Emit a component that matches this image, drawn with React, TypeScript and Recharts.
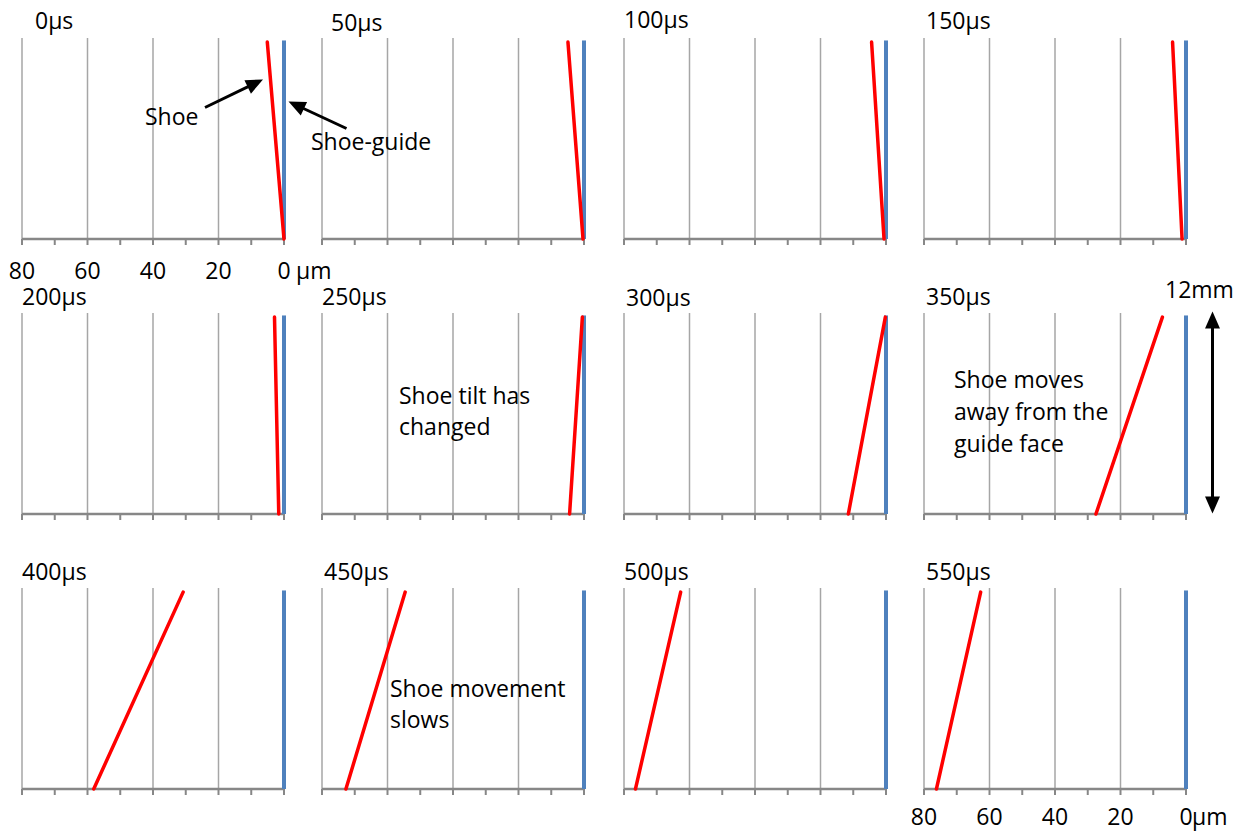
import { ScatterChart, Scatter, XAxis, YAxis, ReferenceLine } from "recharts";

// Frame times of the high-speed sequence
const FRAMES = ["0µs", "50µs", "100µs", "150µs", "200µs", "250µs", "300µs", "350µs", "400µs", "450µs", "500µs", "550µs"];

// Shoe face distance from the guide face (µm) at the bottom and at the top of the shoe
const SHOE_BOTTOM_UM = [0, 0.3, 0.6, 1.2, 1.6, 4.4, 11.5, 27.5, 58.1, 72.7, 76.5, 76.2];
const SHOE_TOP_UM = [5.1, 4.9, 4.4, 4.1, 2.9, 0.5, 0.2, 7.2, 30.8, 54.6, 62.7, 62.7];
const SHOE_HEIGHT_MM = [0, 12];

// Guide face stays put
const GUIDE_UM = [0, 0];
const GUIDE_HEIGHT_MM = [0, 12.1];

const GAP_TICKS = [0, 10, 20, 30, 40, 50, 60, 70, 80];
const GAP_LABELS = [80, 60, 40, 20, 0];
const GRID_UM = [80, 60, 40, 20];

// panel layout
const COL_X = [22, 322, 623.5, 924];
const ROW_Y = [38, 313, 588];
const PLOT_W = 262;
const PLOT_H = 201;
const AXIS_H = 30;
const M = { top: 10, right: 50, bottom: 22, left: 30 };
const TITLE_POS = [
  [36, 31], [332, 33], [625, 30], [927, 31],
  [23, 307], [323, 307], [627, 308], [927, 307],
  [23, 582], [325, 582], [625, 582], [927, 582],
];

const FONT = "'Open Sans', sans-serif";
const FS = 23;
const GRID = "#a6a6a6";
const AXIS = "#878787";

function GapTick(props: any) {
  const { x, y, payload, unitGap, dy } = props;
  if (unitGap == null || !GAP_LABELS.includes(payload.value)) return <g />;
  return (
    <g fontFamily={FONT} fontSize={FS} fill="#000">
      <text x={x} y={y + dy} textAnchor="middle">{payload.value}</text>
      {payload.value === 0 && (
        <text x={x + unitGap} y={y + dy} textAnchor="start">µm</text>
      )}
    </g>
  );
}

function Panel({ index }: { index: number }) {
  const row = Math.floor(index / 4);
  const col = index % 4;
  const shoe = SHOE_HEIGHT_MM.map((y, i) => ({
    x: i === 0 ? SHOE_BOTTOM_UM[index] : SHOE_TOP_UM[index],
    y,
  }));
  const guide = GUIDE_HEIGHT_MM.map((y, i) => ({ x: GUIDE_UM[i], y }));
  const unitGap = index === 0 ? 12 : index === 11 ? 6 : null;
  const labelDy = index === 0 ? 32 : 28;
  return (
    <div style={{ position: "absolute", left: COL_X[col] - M.left, top: ROW_Y[row] - M.top }}>
      <ScatterChart
        width={PLOT_W + M.left + M.right}
        height={PLOT_H + M.top + M.bottom + AXIS_H}
        margin={M}
      >
        <XAxis
          type="number"
          dataKey="x"
          domain={[0, 80]}
          reversed
          ticks={GAP_TICKS}
          interval={0}
          height={AXIS_H}
          axisLine={{ stroke: AXIS, strokeWidth: 2.5 }}
          tickLine={{ stroke: AXIS, strokeWidth: 2 }}
          tickSize={6}
          tick={<GapTick unitGap={unitGap} dy={labelDy} />}
        />
        <YAxis type="number" dataKey="y" domain={[0, 12.25]} hide />
        {GRID_UM.map((v) => (
          <ReferenceLine key={v} x={v} stroke={GRID} strokeWidth={1.5} />
        ))}
        <Scatter
          data={guide}
          line={{ stroke: "#4f81bd", strokeWidth: 4 }}
          shape={() => <g />}
          isAnimationActive={false}
        />
        <Scatter
          data={shoe}
          line={{ stroke: "#ff0000", strokeWidth: 3.5, strokeLinecap: "round" }}
          shape={() => <g />}
          isAnimationActive={false}
        />
      </ScatterChart>
    </div>
  );
}

function Arrow({ x1, y1, x2, y2, both = false }: any) {
  const len = Math.hypot(x2 - x1, y2 - y1);
  const ux = (x2 - x1) / len;
  const uy = (y2 - y1) / len;
  const hl = 17;
  const hw = 7.5;
  const head = (tx: number, ty: number, dx: number, dy: number) => {
    const bx = tx - dx * hl;
    const by = ty - dy * hl;
    return `${tx},${ty} ${bx - dy * hw},${by + dx * hw} ${bx + dy * hw},${by - dx * hw}`;
  };
  const sx = both ? x1 + ux * hl * 0.8 : x1;
  const sy = both ? y1 + uy * hl * 0.8 : y1;
  return (
    <g>
      <line x1={sx} y1={sy} x2={x2 - ux * hl * 0.8} y2={y2 - uy * hl * 0.8} stroke="#000" strokeWidth={3} />
      <polygon points={head(x2, y2, ux, uy)} fill="#000" />
      {both && <polygon points={head(x1, y1, -ux, -uy)} fill="#000" />}
    </g>
  );
}

function Notes() {
  const t = (x: number, y: number, s: string) => (
    <text x={x} y={y}>{s}</text>
  );
  return (
    <svg
      width={1251}
      height={832}
      style={{ position: "absolute", left: 0, top: 0, pointerEvents: "none" }}
    >
      <g fontFamily={FONT} fontSize={FS} fill="#000">
        {t(145, 125, "Shoe")}
        {t(311, 150, "Shoe-guide")}
        {t(399, 404, "Shoe tilt has")}
        {t(399, 435, "changed")}
        {t(954, 388, "Shoe moves")}
        {t(954, 420, "away from the")}
        {t(954, 452, "guide face")}
        {t(1165, 298, "12mm")}
        {t(390, 697, "Shoe movement")}
        {t(390, 728, "slows")}
      </g>
      <Arrow x1={205} y1={107.5} x2={263} y2={79.5} />
      <Arrow x1={346.5} y1={128.5} x2={288.5} y2={101.5} />
      <Arrow x1={1212.5} y1={311.5} x2={1212.5} y2={513.5} both />
    </svg>
  );
}

export default function App() {
  return (
    <div style={{ position: "absolute", left: 0, top: 0, width: 1251, height: 832, background: "#fff", overflow: "hidden" }}>
      {FRAMES.map((f, i) => (
        <div
          key={f}
          style={{
            position: "absolute",
            left: TITLE_POS[i][0] - 1,
            top: TITLE_POS[i][1] - 22,
            fontFamily: FONT,
            fontSize: FS,
            lineHeight: "23px",
            color: "#000",
            whiteSpace: "nowrap",
          }}
        >
          {f}
        </div>
      ))}
      {FRAMES.map((f, i) => (
        <Panel key={f} index={i} />
      ))}
      <Notes />
    </div>
  );
}
